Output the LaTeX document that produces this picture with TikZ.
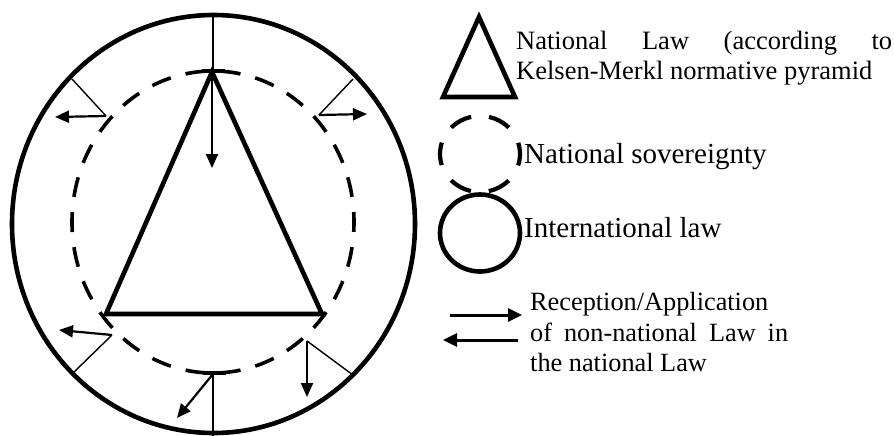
\documentclass[tikz,border=0pt]{standalone}
\usepackage{fontspec}
\setmainfont{Liberation Serif}
\usetikzlibrary{arrows.meta}
\begin{document}
\begin{tikzpicture}[x=1pt,y=-1pt,
  thickline/.style={line width=4.6pt, line join=miter},
  dashline/.style={line width=3.6pt, dash pattern=on 20pt off 15.3pt, dash phase=10pt},
  tickline/.style={line width=3.8pt},
  thinline/.style={line width=1.4pt},
  arr/.style={line width=2.2pt,-{Triangle[length=14pt,width=12pt]}},
  legarr/.style={line width=3pt,-{Triangle[length=14pt,width=13pt]}},
  lbl/.style={anchor=base west, inner sep=0pt},
  fa/.style={font=\fontsize{26.5}{30}\selectfont},
  fb/.style={font=\fontsize{29}{33}\selectfont},
  fc/.style={font=\fontsize{26.3}{30}\selectfont}
]
\useasboundingbox (0,0) rectangle (894,436);

% outer international law ellipse
\draw[thickline] (213.5,224) ellipse [x radius=201.5pt, y radius=209pt];
% dashed national sovereignty ellipse
\draw[dashline] (213,222) ellipse [x radius=141pt, y radius=151pt];
% ticks
\coordinate (tt1) at (202,71); \coordinate (tt2) at (225,71);
\coordinate (bt1) at (203,373); \coordinate (bt2) at (226,373);
\draw[tickline] (tt1) -- (tt2);
\draw[tickline] (bt1) -- (bt2);

% triangle
\coordinate (apex) at (212,72);
\coordinate (bl) at (106,314);
\coordinate (br) at (322,314);
\draw[thickline] (apex) -- (bl) -- (br) -- cycle;

% top
\coordinate (o1) at (213,15); \coordinate (i1) at (213,71); \coordinate (a1) at (212,168);
\draw[thinline] (o1) -- (i1);
\draw[arr] (apex) -- (a1);
% upper left
\coordinate (o2) at (72,79); \coordinate (i2) at (106,116); \coordinate (a2) at (55,117);
\draw[thinline] (o2) -- (i2);
\draw[arr] (i2) -- (a2);
% upper right
\coordinate (o3) at (353,79); \coordinate (i3) at (319,115); \coordinate (a3) at (367,114);
\draw[thinline] (o3) -- (i3);
\draw[arr] (i3) -- (a3);
% lower left
\coordinate (o4) at (73,373); \coordinate (i4) at (112,335); \coordinate (a4) at (59,330);
\draw[thinline] (o4) -- (i4);
\draw[arr] (i4) -- (a4);
% lower right
\coordinate (o5) at (353,375); \coordinate (i5) at (307,341); \coordinate (a5) at (307,397);
\draw[thinline] (o5) -- (i5);
\draw[arr] (i5) -- (a5);
% bottom
\coordinate (o6) at (213,436); \coordinate (i6) at (213,374); \coordinate (a6) at (177,418);
\draw[thinline] (o6) -- (i6);
\draw[arr] (i6) -- (a6);

% legend
\coordinate (la) at (479,17); \coordinate (lb) at (443,97); \coordinate (lc) at (515,97);
\draw[thickline] (la) -- (lb) -- (lc) -- cycle;
\node[lbl,fa] (t1) at (516,49) {\makebox[376pt][s]{National Law (according to}};
\node[lbl,fa] (t2) at (516,80) {Kelsen-Merkl normative pyramid};

\draw[line width=4.2pt, dash pattern=on 22.8pt off 18pt, dash phase=11.4pt] (480,154) ellipse [x radius=40pt, y radius=38pt];
\node[lbl,fb] (t3) at (524,163) {National sovereignty};

\draw[thickline] (480,233) ellipse [x radius=40pt, y radius=38.5pt];
\node[lbl,fb] (t4) at (524,237) {International law};

\coordinate (r1) at (450,315); \coordinate (r2) at (522,315);
\coordinate (l1) at (518,340); \coordinate (l2) at (443,340);
\draw[legarr] (r1) -- (r2);
\draw[legarr] (l1) -- (l2);
\node[lbl,fc] (t5) at (530,310) {Reception/Application};
\node[lbl,fc] (t6) at (530,341) {\makebox[258pt][s]{of non-national Law in}};
\node[lbl,fc] (t7) at (530,371) {the national Law};
\end{tikzpicture}
\end{document}
